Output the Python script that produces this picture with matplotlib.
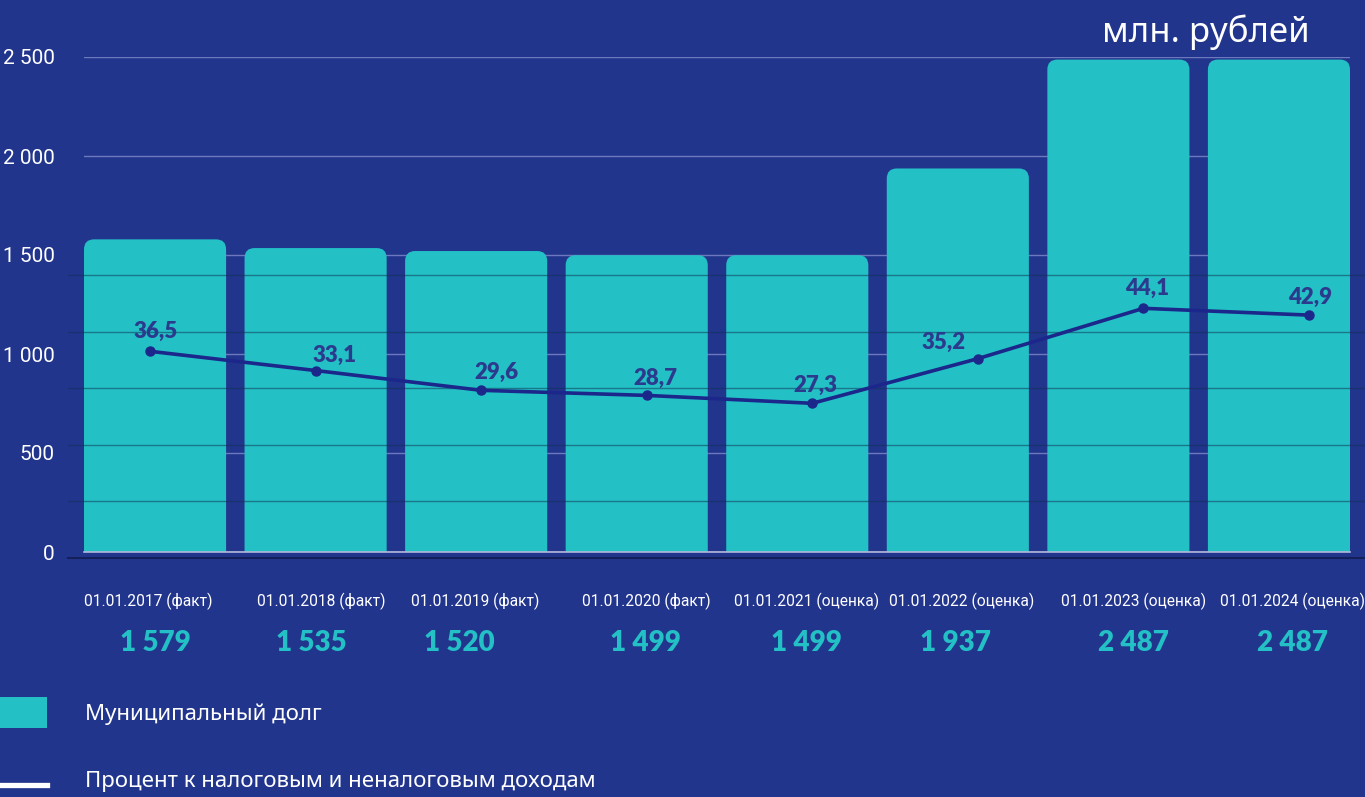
import matplotlib
matplotlib.use('Agg')
import matplotlib.pyplot as plt
from matplotlib import font_manager
from matplotlib.patches import FancyBboxPatch, Rectangle
from matplotlib.lines import Line2D
from matplotlib.transforms import blended_transform_factory

# ---------------- data ----------------
categories = ['01.01.2017 (факт)', '01.01.2018 (факт)', '01.01.2019 (факт)',
              '01.01.2020 (факт)', '01.01.2021 (оценка)', '01.01.2022 (оценка)',
              '01.01.2023 (оценка)', '01.01.2024 (оценка)']
debt = [1579, 1535, 1520, 1499, 1499, 1937, 2487, 2487]
share = [36.5, 33.1, 29.6, 28.7, 27.3, 35.2, 44.1, 42.9]
y_ticks = [0, 500, 1000, 1500, 2000, 2500]
y_tick_labels = ['0', '500', '1 000', '1 500', '2 000', '2 500']
share_grid = [10, 20, 30, 40, 50]
unit_label = 'млн. рублей'
legend_labels = ['Муниципальный долг', 'Процент к налоговым и неналоговым доходам']

# ---------------- style ----------------
BG = '#22358D'
TEAL = '#23C0C6'
LINE = '#1B278A'
LBL = '#2C3A8E'
W, H = 1365, 797

REG = dict(family=['Roboto', 'DejaVu Sans'])
BOLD = dict(family=['Lato', 'DejaVu Sans'], weight='heavy')
SANS = dict(family=['Noto Sans', 'DejaVu Sans'], weight='light')


def fx(px):
    return px / W


def fy(py):
    return 1 - py / H


fig = plt.figure(figsize=(W / 100, H / 100), dpi=100, facecolor=BG)

# primary axes (bars)
ax = fig.add_axes([fx(84), fy(552), fx(1350) - fx(84), fy(57) - fy(552)])
ax.set_facecolor('none')
n = len(debt)
bw = 0.885
ax.set_xlim(-bw / 2, n - 1 + bw / 2)
ax.set_ylim(0, 2500)
bars = ax.bar(range(n), debt, width=bw, color=TEAL)
px_x = (1350 - 84) / (n - 1 + bw)
px_y = (552 - 57) / 2500
for r in bars:
    r.set_visible(False)
    fb = FancyBboxPatch((r.get_x(), -200), r.get_width(), r.get_height() + 200,
                        boxstyle='round,pad=0,rounding_size=%f' % (10 / px_x),
                        mutation_aspect=px_x / px_y,
                        facecolor=TEAL, edgecolor='none', zorder=2)
    ax.add_patch(fb)
ax.set_axisbelow(True)
ax.set_yticks(y_ticks)
ax.set_yticklabels(y_tick_labels)
ax.yaxis.grid(True, color='#6E78BE', linewidth=1)
ax.tick_params(axis='y', length=0, pad=21)
for t in ax.get_yticklabels():
    t.set_fontproperties(font_manager.FontProperties(size=15, **REG))
    t.set_color('white')
ax.set_xticks([])
for s in ['top', 'left', 'right']:
    ax.spines[s].set_visible(False)
ax.spines['bottom'].set_color('#B4B9DC')
ax.spines['bottom'].set_linewidth(1.2)
ax.spines['bottom'].set_zorder(3)

# overlay axes (percentage line)
y0_px, top_px = 557.7, 57
unit = 5.655
ax2 = fig.add_axes([fx(68), fy(y0_px), fx(1365) - fx(68), fy(top_px) - fy(y0_px)])
ax2.set_facecolor('none')
ax2.patch.set_visible(False)
step = 165.57
ax2.set_xlim((68 - 150) / step, (1365 - 150) / step)
ax2.set_ylim(0, (y0_px - top_px) / unit)
ax2.set_yticks(share_grid)
ax2.set_yticklabels([])
ax2.yaxis.grid(True, color='#103050', alpha=0.5, linewidth=1)
ax2.tick_params(length=0)
ax2.set_xticks([])
for s in ['top', 'left', 'right']:
    ax2.spines[s].set_visible(False)
ax2.spines['bottom'].set_color('#14205A')
ax2.spines['bottom'].set_linewidth(1.5)

xs = list(range(n))
ax2.plot(xs, share, color=LINE, linewidth=2.6, marker='o', markersize=6.5,
         zorder=5, solid_capstyle='round')
label_offsets = [(4, 14), (14, 11), (11, 13), (6, 12), (2, 13), (-25, 12), (3, 14), (1, 13)]
for x, v, off in zip(xs, share, label_offsets):
    ax2.annotate(f'{v:.1f}'.replace('.', ','), (x, v), xytext=off,
                 textcoords='offset points', ha='center', va='center',
                 color=LBL, fontsize=16, zorder=6, **BOLD)

# category labels and values below (small horizontal nudges in points)
cat_dx = [-1, 4, -4, 0, -4, -12, -7, -12]
val_dx = [4, -3, -16, -1, -4, -16, -7, -12]
tr = blended_transform_factory(ax2.transData, fig.transFigure)
for x, c, v, dc, dv in zip(xs, categories, debt, cat_dx, val_dx):
    ax2.annotate(c, (x, fy(601)), xycoords=tr, xytext=(dc, 0),
                 textcoords='offset points', ha='center', va='center',
                 color='white', fontsize=11.2, annotation_clip=False, **REG)
    ax2.annotate(f'{v:,}'.replace(',', ' '), (x, fy(643)), xycoords=tr,
                 xytext=(dv, 0), textcoords='offset points', ha='center',
                 va='center', color=TEAL, fontsize=20, annotation_clip=False,
                 **BOLD)

# unit label
fig.text(fx(1310), fy(32), unit_label, ha='right', va='center', color='white',
         fontsize=25, **SANS)

# legend
fig.patches.append(Rectangle((0, fy(728)), fx(47), fy(697) - fy(728),
                             transform=fig.transFigure, facecolor=TEAL,
                             edgecolor='none'))
fig.lines.append(Line2D([0, fx(47)], [fy(785), fy(785)], transform=fig.transFigure,
                        color='white', linewidth=3.8))
fig.text(fx(85), fy(714), legend_labels[0], ha='left', va='center', color='white',
         fontsize=16, **SANS)
fig.text(fx(85), fy(782), legend_labels[1], ha='left', va='center', color='white',
         fontsize=16, **SANS)

fig.savefig('out.png', dpi=100, facecolor=BG)
